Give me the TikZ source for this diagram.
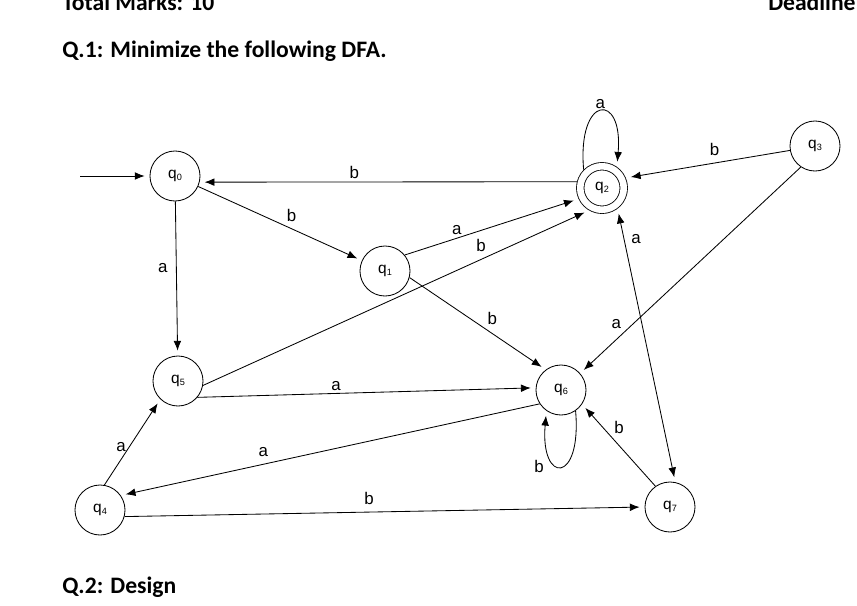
\documentclass[tikz,border=0pt]{standalone}
\usepackage{fontspec}
\setmainfont{Liberation Sans}
\newfontfamily\headfont{Carlito}
\usetikzlibrary{arrows.meta}
\tikzstyle{state}=[circle, draw, line width=0.6pt, minimum size=1.25cm, inner sep=0pt, font=\fontsize{11}{13}\selectfont]
\tikzstyle{final}=[circle, draw, line width=0.6pt, double, double distance=4.7pt, minimum size=1.0875cm, inner sep=0pt, outer sep=3pt, font=\fontsize{11}{13}\selectfont]
\tikzstyle{trans}=[->, >={Latex[length=7pt,width=5.5pt]}, line width=0.6pt, shorten >=3.5pt]
\tikzstyle{lab}=[font=\fontsize{12}{14}\selectfont, inner sep=2pt]
\tikzstyle{head}=[font=\headfont\bfseries\fontsize{16.8}{20}\selectfont, anchor=base west, inner sep=0pt]
\newcommand{\qs}[1]{q\raisebox{-0.2ex}{\fontsize{6.5}{7}\selectfont #1}}

\begin{document}
\begin{tikzpicture}[x=0.025cm, y=-0.025cm]
	   \useasboundingbox (0,0) rectangle (857,606);
	   \clip (0,0) rectangle (857,606);
	   \begin{scope}
		   \node (total) at (62,10) [head] {Total Marks: 10};
		   \node (dead) at (768,10) [head] {Deadline:};
		   \node (quest1) at (62,57) [head] {Q.1: Minimize the following DFA.};
		   \node (quest2) at (62,593) [head] {Q.2: Design};

		   \coordinate (start) at (80,176);
		   \node (q0) at (175,176) [state] {\qs{0}};
		   \node (q1) at (385,271) [state] {\qs{1}};
		   \node (q2) at (602,188) [final] {\qs{2}};
		   \node (q3) at (815,146) [state] {\qs{3}};
		   \node (q4) at (100,510) [state] {\qs{4}};
		   \node (q5) at (178,381) [state] {\qs{5}};
		   \node (q6) at (561,390) [state] {\qs{6}};
		   \node (q7) at (670,507) [state] {\qs{7}};
	   \end{scope}
	   \begin{scope}
		   \path [trans] (start) edge (q0);
		   \path [trans] (q2.166) edge node[lab, pos=0.59, above] {b} (q0.-14);
		   \path [trans] (q0) edge node[lab, pos=0.57, above=3pt] {b} (q1);
		   \path [trans] (q0) edge node[lab, pos=0.43, left=4pt] {a} (q5);

		   \path [trans] (q1.39) edge node[lab, pos=0.3, above] {a} (q2.205);
		   \path [trans] (q5.-10) edge node[lab, pos=0.72, above=3pt] {b} (q2.240);
		   \path [trans] (q1.-15) edge node[lab, pos=0.55, above right] {b} (q6.127);

		   \path [trans] (q3.190) edge node[lab, pos=0.46, above=3pt] {b} (q2.23);
		   \path [trans] (q3.-124) edge node[lab, pos=0.8, above left] {a} (q6.41);
		   \path [trans, <->, shorten <=3.5pt] (q2.-53) edge node[lab, pos=0.11, right=3pt] {a} (q7.78);

		   \path [trans] (q5.-40) edge node[lab, pos=0.41, above] {a} (q6.175);
		   \path [trans] (q6.213) edge node[lab, pos=0.66, above=3pt] {a} (q4.35);
		   \path [trans] (q4.80) edge node[lab, pos=0.44, left] {a} (q5.226);
		   \path [trans] (q4.-15) edge node[lab, pos=0.47, above=3pt] {b} (q7.180);
		   \path [trans] (q7.125) edge node[lab, pos=0.72, right=6pt] {b} (q6.-34);

		   \path [trans] (q2.135) edge [out=95, in=85, looseness=5.8] node[lab, above] {a} (q2.55);
		   \path [trans] (q6.-55) edge [out=-85, in=-95, looseness=6.5] node[lab, pos=0.5, left=10pt] {b} (q6.-125);
	   \end{scope}
\end{tikzpicture}
\end{document}
